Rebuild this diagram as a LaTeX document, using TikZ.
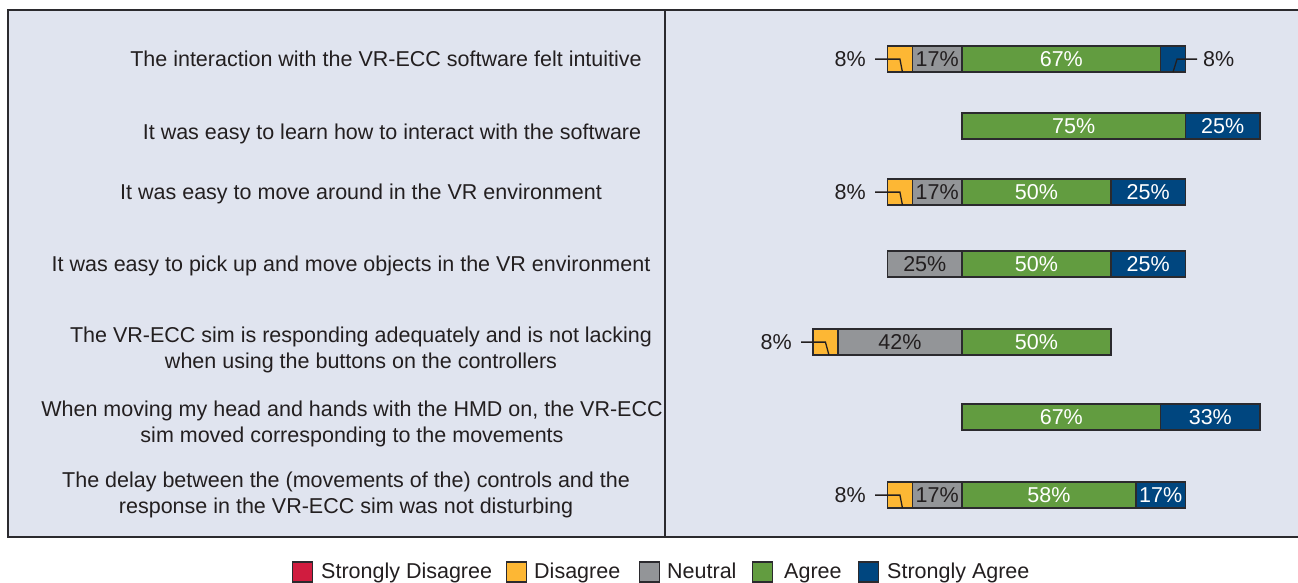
\documentclass[tikz,border=0pt]{standalone}
\usepackage{fontspec}
\setmainfont{Liberation Sans}
\usetikzlibrary{calc}
\definecolor{bgpanel}{HTML}{E0E4EF}
\definecolor{ink}{HTML}{231F20}
\definecolor{edge}{HTML}{2B2A2E}
\definecolor{csdis}{HTML}{D01C3F}
\definecolor{cdis}{HTML}{FDB734}
\definecolor{cneu}{HTML}{939598}
\definecolor{cagr}{HTML}{629C40}
\definecolor{csag}{HTML}{00467F}
\tikzset{
  seg/.style={draw=edge, line width=1.5pt, inner sep=0pt, outer sep=0pt,
    minimum height=26pt, text height=15pt, text depth=0pt},
  cD/.style={seg, fill=cdis, text=ink},
  cN/.style={seg, fill=cneu, text=ink},
  cA/.style={seg, fill=cagr, text=white},
  cS/.style={seg, fill=csag, text=white},
  qlabel/.style={anchor=base, inner sep=0pt, text=ink},
  plabelL/.style={anchor=base east, inner sep=0pt, text=ink},
  plabelR/.style={anchor=base west, inner sep=0pt, text=ink},
  callout/.style={draw=ink, line width=1.3pt},
  lgbox/.style={draw=edge, line width=1.4pt, minimum size=20pt, inner sep=0pt},
  lgtext/.style={anchor=base west, inner sep=0pt, text=ink},
  frameline/.style={draw=edge, line width=2.3pt},
}
\newcommand\barseg[6]{\node[#5, minimum width={#3*24.83pt}] (#1) at ({962+(#2+#3/2)*24.83},#4) {#6};}
\begin{document}
\begin{tikzpicture}[x=1pt,y=-1pt,font=\fontsize{21.5}{26}\selectfont]
\useasboundingbox (0,0) rectangle (1298,582);
\clip (0,0) rectangle (1298,582);
\fill[white] (0,0) rectangle (1298,582);
% panel
\fill[bgpanel] (8,10) rectangle (1320,537);
\draw[frameline] (1320,10) -- (8,10) -- (8,537) -- (1320,537);
\draw[frameline, line width=2pt] (665,10) -- (665,537);

% question labels
\node[qlabel] (q1) at (386,66.5) {The interaction with the VR-ECC software felt intuitive};
\node[qlabel] (q2) at (392,139.5) {It was easy to learn how to interact with the software};
\node[qlabel] (q3) at (361,199.5) {It was easy to move around in the VR environment};
\node[qlabel] (q4) at (351,271.5) {It was easy to pick up and move objects in the VR environment};
\node[qlabel] (q5a) at (361,342.5) {The VR-ECC sim is responding adequately and is not lacking};
\node[qlabel] (q5b) at (361,368.5) {when using the buttons on the controllers};
\node[qlabel] (q6a) at (352,416) {When moving my head and hands with the HMD on, the VR-ECC};
\node[qlabel] (q6b) at (352,442) {sim moved corresponding to the movements};
\node[qlabel] (q7a) at (346,487.5) {The delay between the (movements of the) controls and the};
\node[qlabel] (q7b) at (346,513.5) {response in the VR-ECC sim was not disturbing};

% row 1
\barseg{r1d}{-3}{1}{59}{cD}{}
\barseg{r1n}{-2}{2}{59}{cN}{17\%}
\barseg{r1a}{0}{8}{59}{cA}{67\%}
\barseg{r1s}{8}{1}{59}{cS}{}
% row 2
\barseg{r2a}{0}{9}{126}{cA}{75\%}
\barseg{r2s}{9}{3}{126}{cS}{25\%}
% row 3
\barseg{r3d}{-3}{1}{192}{cD}{}
\barseg{r3n}{-2}{2}{192}{cN}{17\%}
\barseg{r3a}{0}{6}{192}{cA}{50\%}
\barseg{r3s}{6}{3}{192}{cS}{25\%}
% row 4
\barseg{r4n}{-3}{3}{264}{cN}{25\%}
\barseg{r4a}{0}{6}{264}{cA}{50\%}
\barseg{r4s}{6}{3}{264}{cS}{25\%}
% row 5
\barseg{r5d}{-6}{1}{342}{cD}{}
\barseg{r5n}{-5}{5}{342}{cN}{42\%}
\barseg{r5a}{0}{6}{342}{cA}{50\%}
% row 6
\barseg{r6a}{0}{8}{417}{cA}{67\%}
\barseg{r6s}{8}{4}{417}{cS}{33\%}
% row 7
\barseg{r7d}{-3}{1}{495}{cD}{}
\barseg{r7n}{-2}{2}{495}{cN}{17\%}
\barseg{r7a}{0}{7}{495}{cA}{58\%}
\barseg{r7s}{7}{2}{495}{cS}{17\%}

% callout labels
\node[plabelL] (p1d) at (866,66.5) {8\%};
\node[plabelR] (p1s) at (1203,66.5) {8\%};
\node[plabelL] (p3d) at (866,199.5) {8\%};
\node[plabelL] (p5d) at (792,349.5) {8\%};
\node[plabelL] (p7d) at (866,502.5) {8\%};

\draw[callout] ([xshift=9pt]p1d.east) -- (p1d.east -| r1d.center) -- ([xshift=2.5pt]r1d.south);
\draw[callout] ([xshift=9pt]p3d.east) -- (p3d.east -| r3d.center) -- ([xshift=2.5pt]r3d.south);
\draw[callout] ([xshift=9pt]p7d.east) -- (p7d.east -| r7d.center) -- ([xshift=2.5pt]r7d.south);
\draw[callout] ([xshift=9pt]p5d.east) -- (p5d.east -| r5d.center) -- ([xshift=3.5pt]r5d.south);
\draw[callout] ([xshift=-6pt]p1s.west) -- ($(p1s.west -| r1s.center)+(4,0)$) -- (r1s.south);

% legend
\node[lgbox, fill=csdis] (k1) at (302.5,572) {};
\node[lgtext] (t1) at (321,578) {Strongly Disagree};
\node[lgbox, fill=cdis] (k2) at (516.5,572) {};
\node[lgtext] (t2) at (534,578) {Disagree};
\node[lgbox, fill=cneu] (k3) at (649.5,572) {};
\node[lgtext] (t3) at (667,578) {Neutral};
\node[lgbox, fill=cagr] (k4) at (762.5,572) {};
\node[lgtext] (t4) at (784,578) {Agree};
\node[lgbox, fill=csag] (k5) at (868.5,572) {};
\node[lgtext] (t5) at (887,578) {Strongly Agree};
\end{tikzpicture}
\end{document}
